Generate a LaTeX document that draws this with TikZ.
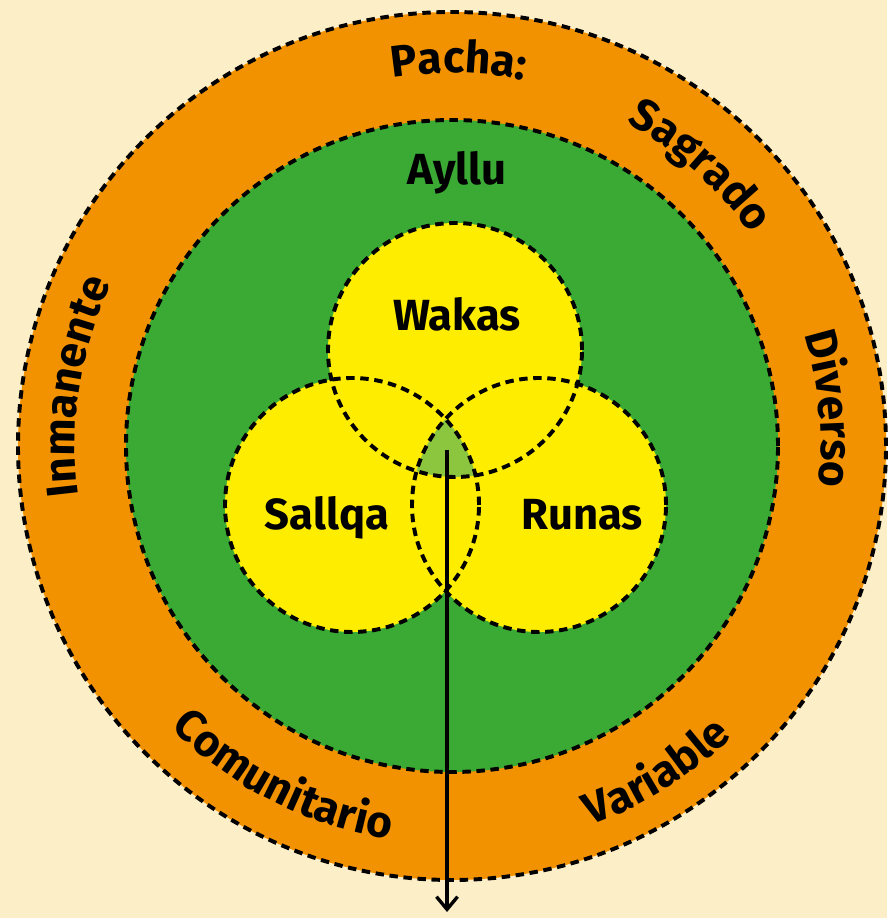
\documentclass[tikz,border=0pt]{standalone}
\usepackage{fontspec}
\setmainfont{Fira Sans}
\usetikzlibrary{arrows.meta,decorations.text}
\definecolor{fondo}{HTML}{FCEFC8}
\definecolor{naranja}{HTML}{F39200}
\definecolor{verde}{HTML}{3AAA35}
\definecolor{amarillo}{HTML}{FFED00}
\definecolor{verdeclaro}{HTML}{8CC63F}
\newcommand\anillofont{\bfseries\fontsize{31.5}{36}\selectfont}
\tikzset{>=Latex,
  borde/.style={draw=black,line width=2.8pt,dash pattern=on 6pt off 4pt},
  etiqueta/.style={font=\bfseries\fontsize{31}{36}\selectfont,anchor=base,inner sep=0pt},
  anillo/.style={decorate,decoration={text along path,text align=center,
    text={|\anillofont|#1}}},
  flecha/.style={-{Straight Barb[length=9pt,width=15pt]},line width=2.4pt}}

\begin{document}
\begin{tikzpicture}[x=.025cm,y=.025cm]
\fill[fondo] (0,0) rectangle (887,918);
\useasboundingbox (0,0) rectangle (887,918);
\coordinate (O) at (452,472);
\draw[borde,fill=naranja] (O) circle (434);
\draw[borde,fill=verde] (O) circle (326);
\coordinate (W) at (455,568);
\coordinate (S) at (352,413);
\coordinate (R) at (539,413);
\foreach \c in {W,S,R}{\fill[amarillo] (\c) circle (127);}
\begin{scope}
\clip (S) circle (127); \clip (R) circle (127);
\fill[verdeclaro] (W) circle (127);
\end{scope}
\foreach \c in {W,S,R}{\draw[borde] (\c) circle (127);}
% labels
\node[etiqueta] (ayllu) at (457,733) {Ayllu};
\node[etiqueta] (wakas) at (457,587) {Wakas};
\node[etiqueta] (sallqa) at (327,388) {Sallqa};
\node[etiqueta] (runas) at (582,388) {Runas};
% ring
\path[anillo=Pacha:] (O) ++(129:373) arc[start angle=129,end angle=49,radius=373];
\path[anillo=Sagrado] (O) ++(88.5:367) arc[start angle=88.5,end angle=8.5,radius=367];
\path[anillo=Diverso] (O) ++(45.6:369) arc[start angle=45.6,end angle=-34.4,radius=369];
\path[anillo=Inmanente] (O) ++(211:377) arc[start angle=211,end angle=131,radius=377];
\path[anillo=Comunitario] (O) ++(203:398) arc[start angle=203,end angle=283,radius=398];
\path[anillo=Variable] (O) ++(262:404) arc[start angle=262,end angle=342,radius=404];
\coordinate (punta) at (447,468);
\coordinate (fin) at (447,6);
\draw[flecha] (punta) -- (fin);
\end{tikzpicture}
\end{document}
